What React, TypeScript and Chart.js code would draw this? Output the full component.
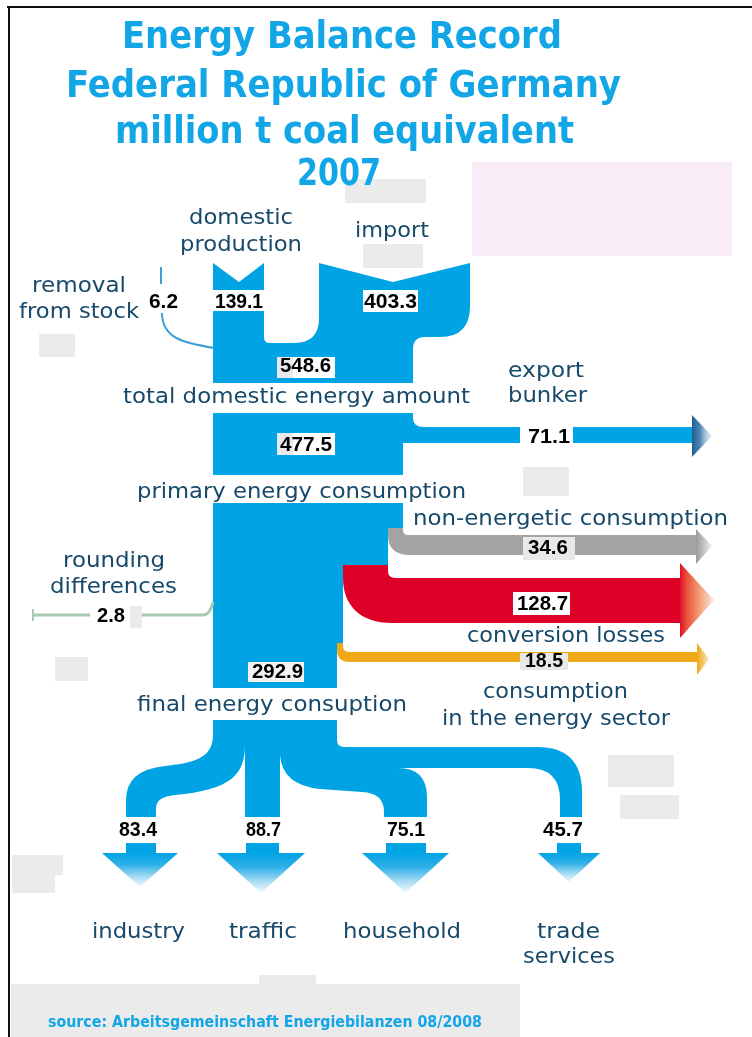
import React, { useEffect, useRef } from "react";
import { Chart, registerables } from "chart.js";
Chart.register(...registerables);

// ---------- data ----------
const titleLines = ["Energy Balance Record", "Federal Republic of Germany", "million t coal equivalent", "2007"];
const sourceNote = "source: Arbeitsgemeinschaft Energiebilanzen 08/2008";
const inputLabels = [["removal", "from stock"], ["domestic", "production"], ["import"]];
const inputValues = [6.2, 139.1, 403.3];
const stageLabels = ["total domestic energy amount", "primary energy consumption", "final energy consuption"];
const stageValues = [548.6, 477.5, 292.9];
const outflowLabels = [["export", "bunker"], ["non-energetic consumption"], ["conversion losses"], ["consumption", "in the energy sector"], ["rounding", "differences"]];
const outflowValues = [71.1, 34.6, 128.7, 18.5, 2.8];
const sectorLabels = [["industry"], ["traffic"], ["household"], ["trade", "services"]];
const sectorValues = [83.4, 88.7, 75.1, 45.7];

// ---------- layout (data units of the hidden linear scales) ----------
const W = 752;
const H = 1037;
const titleBoxes = [[122, 562, 48], [66, 621, 97], [115, 574, 143], [297, 381, 185]];
const sourceBox = [48, 482, 1027];
const inputTextBoxes = [[[32, 126, 292], [19, 139, 318]], [[189, 293, 224], [180, 302, 251]], [[355, 429, 237]]];
const inputNumBoxes = [[149, 178, 308], [215, 263, 308], [364, 417, 308]];
const inputNumBg = [null, [213, 290, 264, 311], [363, 290, 418, 312]];
const stageTextBoxes = [[123, 470, 403], [137, 466, 497.5], [137, 407, 711]];
const stageNumBoxes = [[280, 331, 372], [280, 332, 451], [252, 303, 678]];
const stageNumBg = [[277, 357, 335, 378], [277, 433, 335, 455], [248, 662, 304, 682]];
const outTextBoxes = [
  [[508, 584, 377], [508, 587, 402]],
  [[413, 728, 525]],
  [[467, 665, 642]],
  [[483, 628, 698], [442, 670, 725]],
  [[63, 165, 567], [50, 177, 593]],
];
const outNumBoxes = [[528, 570, 443], [528, 568, 554], [517, 568, 610], [525, 563, 667], [97, 125, 622]];
const outNumBg = [[520, 424, 573, 448], [523, 537, 575, 560], [513, 592, 570, 615], [520, 653, 568, 670], null];
const sectorTextBoxes = [[[92, 185, 938]], [[229, 297, 938]], [[343, 461, 938]], [[537, 600, 938], [523, 615, 963]]];
const sectorNumBoxes = [[119, 157, 836], [246, 281, 836], [387, 425, 836], [543, 583, 836]];
// stem x0,x1 ; head x0,x1 ; tip y
const sectorArrows = [[126, 156, 102, 178, 887], [246, 279, 217, 305, 893], [386, 426, 362, 449, 893], [557, 581, 538, 600, 882]];
const greyPatches = [
  [345, 179, 426, 203], [363, 244, 423, 268], [39, 334, 75, 357], [523, 467, 569, 496],
  [130, 606, 142, 628], [55, 657, 88, 681], [608, 755, 674, 787], [620, 795, 679, 819],
  [12, 855, 63, 875], [12, 875, 55, 893], [11, 984, 520, 1037], [259, 975, 316, 984],
];

const BLUE = "#00a3e3";
const TITLE_BLUE = "#12a6e6";
const NAVY = "#17496a";
const RED = "#df0028";
const GREY = "#a3a3a3";
const YELLOW = "#f0a818";
const GREEN = "#a6c9b2";
const PATCH = "#ebebeb";

const LABEL_FONT = '22px "DejaVu Sans", Verdana, sans-serif';
const NARROW = '"Liberation Sans Narrow", "Arial Narrow", "DejaVu Sans Condensed", sans-serif';
const SECTOR_FONT = "22px " + NARROW;
const TITLE_FONT = "bold 37px " + NARROW;
const SOURCE_FONT = "bold 16px " + NARROW;
const NUM_FONT = 'bold 21px "Liberation Sans", Arial, sans-serif';

type Cmd = (string | number)[];

function drawScene(chart: any) {
  const ctx: CanvasRenderingContext2D = chart.ctx;
  const xs = chart.scales.x;
  const ys = chart.scales.y;
  const X = (v: number) => xs.getPixelForValue(v);
  const Y = (v: number) => ys.getPixelForValue(v);

  const path = (cmds: Cmd[]) => {
    ctx.beginPath();
    for (const c of cmds) {
      const op = c[0];
      const a = c.slice(1) as number[];
      if (op === "M") ctx.moveTo(X(a[0]), Y(a[1]));
      else if (op === "L") ctx.lineTo(X(a[0]), Y(a[1]));
      else if (op === "Q") ctx.quadraticCurveTo(X(a[0]), Y(a[1]), X(a[2]), Y(a[3]));
      else if (op === "C") ctx.bezierCurveTo(X(a[0]), Y(a[1]), X(a[2]), Y(a[3]), X(a[4]), Y(a[5]));
      else if (op === "Z") ctx.closePath();
    }
  };
  const fillPath = (cmds: Cmd[], style: any) => {
    path(cmds);
    ctx.fillStyle = style;
    ctx.fill();
  };
  const strokePath = (cmds: Cmd[], style: string, lw: number) => {
    path(cmds);
    ctx.strokeStyle = style;
    ctx.lineWidth = lw;
    ctx.lineCap = "butt";
    ctx.stroke();
  };
  const rect = (r: number[], style: string) => {
    ctx.fillStyle = style;
    ctx.fillRect(X(r[0]), Y(r[1]), X(r[2]) - X(r[0]), Y(r[3]) - Y(r[1]));
  };
  const text = (s: string, box: number[], font: string, color: string) => {
    ctx.save();
    ctx.font = font;
    ctx.fillStyle = color;
    ctx.textAlign = "left";
    ctx.textBaseline = "alphabetic";
    const w = ctx.measureText(s).width;
    const target = X(box[1]) - X(box[0]);
    ctx.translate(X(box[0]), Y(box[2]));
    ctx.scale(target / w, 1);
    ctx.fillText(s, 0, 0);
    ctx.restore();
  };
  const hGrad = (x0: number, x1: number, stops: [number, string][]) => {
    const g = ctx.createLinearGradient(X(x0), 0, X(x1), 0);
    stops.forEach(([o, c]) => g.addColorStop(o, c));
    return g;
  };
  const vGrad = (y0: number, y1: number, stops: [number, string][]) => {
    const g = ctx.createLinearGradient(0, Y(y0), 0, Y(y1));
    stops.forEach(([o, c]) => g.addColorStop(o, c));
    return g;
  };

  // background
  ctx.save();
  ctx.fillStyle = "#ffffff";
  ctx.fillRect(0, 0, chart.width, chart.height);

  // decorative patches of the scanned original
  greyPatches.forEach((r) => rect(r, PATCH));
  rect([472, 162, 732, 256], "#f8ecf6");

  // frame
  ctx.fillStyle = "#111111";
  ctx.fillRect(X(7), Y(6), X(W) - X(7), 2);
  ctx.fillRect(X(8), Y(6), 2, Y(H) - Y(6));

  // title + source
  titleLines.forEach((t, i) => text(t, titleBoxes[i], TITLE_FONT, TITLE_BLUE));
  text(sourceNote, sourceBox, SOURCE_FONT, TITLE_BLUE);

  // ---- inputs -> total domestic energy amount ----
  fillPath([
    ["M", 213, 263], ["L", 239, 282], ["L", 264, 263], ["L", 264, 337], ["Q", 264, 343, 270, 343],
    ["L", 294, 343], ["Q", 319, 343, 319, 318], ["L", 319, 263], ["L", 393, 282], ["L", 470, 263],
    ["L", 470, 306], ["Q", 470, 337, 440, 337], ["L", 425, 337], ["Q", 413, 337, 413, 349],
    ["L", 413, 383], ["L", 213, 383], ["Z"],
  ], BLUE);
  // removal from stock line
  strokePath([["M", 161, 267], ["L", 161, 284]], "#3c9fd5", 2);
  strokePath([["M", 162, 313], ["C", 162, 338, 183, 343, 214, 348]], "#3c9fd5", 2);

  // ---- total -> primary, export branch ----
  fillPath([
    ["M", 213, 413], ["L", 413, 413], ["L", 413, 418], ["Q", 413, 427, 424, 427], ["L", 692, 427],
    ["L", 692, 443], ["L", 403, 443], ["L", 403, 475], ["L", 213, 475], ["Z"],
  ], BLUE);
  fillPath([["M", 692, 415], ["L", 712, 436], ["L", 692, 457], ["Z"]],
    hGrad(692, 712, [[0, "#1f5f92"], [0.4, "#4f87b3"], [1, "rgba(210,228,240,0.5)"]]));

  // ---- primary -> final, losses ----
  fillPath([
    ["M", 213, 503], ["L", 403, 503], ["L", 403, 528], ["L", 388, 528], ["L", 388, 565], ["L", 343, 565],
    ["L", 343, 643], ["L", 337, 643], ["L", 337, 688], ["L", 213, 688], ["Z"],
  ], BLUE);
  // non-energetic
  fillPath([
    ["M", 388, 528], ["L", 403, 528], ["L", 403, 530], ["Q", 403, 535, 408, 535], ["L", 696, 535],
    ["L", 696, 555], ["L", 410, 555], ["Q", 388, 555, 388, 535], ["Z"],
  ], GREY);
  fillPath([["M", 696, 529], ["L", 712, 546], ["L", 696, 564], ["Z"]],
    hGrad(696, 712, [[0, "#9b9b9b"], [0.5, "#c4c4c4"], [1, "#f2f2f2"]]));
  // conversion losses
  fillPath([
    ["M", 343, 565], ["L", 388, 565], ["L", 388, 571], ["Q", 388, 578, 395, 578], ["L", 680, 578],
    ["L", 680, 623], ["L", 392, 623], ["C", 360, 623, 343, 605, 343, 578], ["Z"],
  ], RED);
  fillPath([["M", 680, 563], ["L", 714, 600], ["L", 680, 638], ["Z"]],
    hGrad(680, 714, [[0, "#e0102a"], [0.2, "#e8503c"], [0.55, "#f39a72"], [1, "#fde6d6"]]));
  // energy sector consumption
  fillPath([
    ["M", 337, 643], ["L", 343, 643], ["L", 343, 646], ["Q", 343, 652, 350, 652], ["L", 697, 652],
    ["L", 697, 662], ["L", 350, 662], ["Q", 337, 662, 337, 650], ["Z"],
  ], YELLOW);
  fillPath([["M", 697, 643], ["L", 709, 659], ["L", 697, 675], ["Z"]],
    hGrad(697, 709, [[0, YELLOW], [1, "#fbe6c0"]]));
  // rounding differences
  strokePath([["M", 33, 615], ["L", 90, 615]], GREEN, 3);
  strokePath([["M", 33, 609], ["L", 33, 621]], GREEN, 2);
  strokePath([["M", 142, 615], ["L", 203, 615], ["Q", 210, 615, 213, 602]], GREEN, 3);

  // ---- final -> sectors ----
  fillPath([
    ["M", 213, 720], ["L", 337, 720], ["L", 337, 740], ["Q", 337, 747, 344, 747], ["L", 537, 747],
    ["Q", 582, 747, 582, 792], ["L", 582, 817], ["L", 560, 817], ["L", 560, 800], ["Q", 560, 768, 528, 768],
    ["L", 398, 768], ["Q", 427, 768, 427, 797], ["L", 427, 817], ["L", 384, 817], ["L", 384, 812],
    ["Q", 384, 793, 362, 792], ["L", 320, 789], ["Q", 282, 785, 280, 755], ["L", 280, 817], ["L", 245, 817],
    ["L", 245, 745], ["C", 245, 775, 230, 790, 175, 795], ["Q", 156, 797, 156, 808], ["L", 156, 817],
    ["L", 126, 817], ["L", 126, 800], ["Q", 126, 770, 165, 766], ["C", 190, 763, 213, 760, 213, 735], ["Z"],
  ], BLUE);
  sectorArrows.forEach((a) => {
    rect([a[0], 843, a[1], 853], BLUE);
    fillPath([["M", a[2], 853], ["L", a[3], 853], ["L", (a[2] + a[3]) / 2, a[4]], ["Z"]],
      vGrad(853, a[4], [[0, BLUE], [0.35, "#2fb0e8"], [0.7, "#a6dbf3"], [1, "#f4fbfe"]]));
  });

  // ---- labels ----
  inputLabels.forEach((lines, i) => lines.forEach((l, j) => text(l, inputTextBoxes[i][j], LABEL_FONT, NAVY)));
  inputValues.forEach((v, i) => {
    const bg = inputNumBg[i];
    if (bg) rect(bg, "#ffffff");
    text(v.toFixed(1), inputNumBoxes[i], NUM_FONT, "#000000");
  });
  stageLabels.forEach((l, i) => text(l, stageTextBoxes[i], LABEL_FONT, NAVY));
  stageValues.forEach((v, i) => {
    const bg = stageNumBg[i];
    rect(bg, "#ffffff");
    if (i < 2) rect([bg[0], bg[1], bg[0] + 16, bg[3]], "#e9e9e9");
    else rect(bg, "#f3f3f3");
    text(v.toFixed(1), stageNumBoxes[i], NUM_FONT, "#000000");
  });
  outflowLabels.forEach((lines, i) => lines.forEach((l, j) => text(l, outTextBoxes[i][j], LABEL_FONT, NAVY)));
  outflowValues.forEach((v, i) => {
    const bg = outNumBg[i];
    if (bg) rect(bg, i === 1 || i === 3 ? "#e8e8e8" : "#ffffff");
    text(v.toFixed(1), outNumBoxes[i], NUM_FONT, "#000000");
  });
  sectorLabels.forEach((lines, i) => lines.forEach((l, j) => text(l, sectorTextBoxes[i][j], SECTOR_FONT, NAVY)));
  sectorValues.forEach((v, i) => text(v.toFixed(1), sectorNumBoxes[i], NUM_FONT, "#000000"));

  ctx.restore();
}

const sankeyPlugin = {
  id: "energyBalance",
  afterDraw(chart: any) {
    drawScene(chart);
  },
};

export default function App() {
  const ref = useRef<HTMLCanvasElement>(null);
  useEffect(() => {
    if (!ref.current) return;
    const chart = new Chart(ref.current, {
      type: "scatter",
      data: { datasets: [{ data: [], pointRadius: 0 }] },
      options: {
        responsive: false,
        animation: false,
        events: [],
        devicePixelRatio: 1,
        layout: { padding: 0 },
        plugins: { legend: { display: false }, tooltip: { enabled: false }, title: { display: false } },
        scales: {
          x: { type: "linear", min: 0, max: W, display: false },
          y: { type: "linear", min: 0, max: H, reverse: true, display: false },
        },
      },
      plugins: [sankeyPlugin],
    } as any);
    return () => chart.destroy();
  }, []);
  return (
    <div style={{ position: "absolute", left: 0, top: 0, width: W, height: H, background: "#fff" }}>
      <canvas ref={ref} width={W} height={H} style={{ display: "block", width: W, height: H }} />
    </div>
  );
}
